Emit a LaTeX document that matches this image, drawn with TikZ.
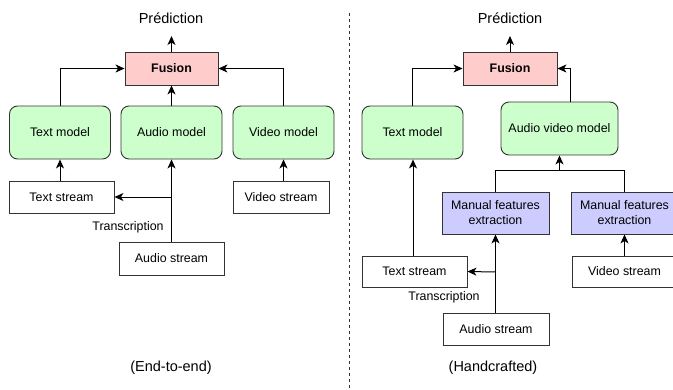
\documentclass[tikz,border=0pt]{standalone}
\usepackage{fontspec}
\setmainfont{Liberation Sans}
\usetikzlibrary{arrows.meta}
\definecolor{pinkfill}{HTML}{FFCCCC}
\definecolor{greenfill}{HTML}{CCFFCC}
\definecolor{bluefill}{HTML}{CCCCFF}
\definecolor{edge}{HTML}{333333}
\tikzset{
  base/.style={draw=edge, line width=0.9pt, inner sep=0pt, align=center,
    font=\fontsize{12.4}{15}\selectfont},
  fusionbox/.style={base, fill=pinkfill, font=\fontsize{12.4}{15}\selectfont\bfseries},
  modelbox/.style={base, fill=greenfill, rounded corners=8pt},
  featbox/.style={base, fill=bluefill},
  streambox/.style={base, fill=white},
  plainlabel/.style={inner sep=0pt, font=\fontsize{12.4}{15}\selectfont},
  biglabel/.style={inner sep=0pt, font=\fontsize{14.5}{17}\selectfont},
  conn/.style={draw=black, line width=1pt, -{Stealth[length=9pt,width=8pt,inset=2.5pt]}},
  wire/.style={draw=black, line width=1pt},
}
\begin{document}
\begin{tikzpicture}[x=1pt,y=-1pt]
\useasboundingbox (0,0) rectangle (673,389);
\clip (0,0) rectangle (673,389);

% ---------- end-to-end pipeline ----------
\node[biglabel] (pred1) at (171,18) {Prédiction};
\node[fusionbox, minimum width=93pt, minimum height=33pt] (fus1) at (171.5,68.5) {Fusion};
\node[modelbox, minimum width=101pt, minimum height=53pt] (tm1) at (60,132.5) {Text model};
\node[modelbox, minimum width=101pt, minimum height=53pt] (am1) at (171.5,132.5) {Audio model};
\node[modelbox, minimum width=101pt, minimum height=53pt] (vm1) at (283.5,132.5) {Video model};
\node[streambox, minimum width=105pt, minimum height=32pt] (ts1) at (61.5,197) {Text stream};
\node[streambox, minimum width=96pt, minimum height=32pt] (vs1) at (281,197) {Video stream};
\node[streambox, minimum width=105pt, minimum height=33pt] (as1) at (171.5,258.5) {Audio stream};
\node[plainlabel] (tr1) at (128,227) {Transcription};
\node[biglabel] (cap1) at (171,368) {(End-to-end)};

\coordinate (ptop1) at (171.5,36);
\draw[conn] (fus1.north) -- (ptop1);
\draw[conn] (tm1.north) |- (fus1.west);
\draw[conn] (vm1.north) |- (fus1.east);
\draw[conn] (am1.north) -- (fus1.south);
\draw[conn] (tm1.south |- ts1.north) -- (tm1.south);
\draw[conn] (vm1.south |- vs1.north) -- (vm1.south);
\draw[conn] (as1.north) -- (am1.south);
\coordinate (split1) at (171.5,197);
\draw[conn] (split1) -- (ts1.east);

% ---------- divider ----------
\coordinate (divtop) at (349,13);
\coordinate (divbot) at (349,389);
\draw[line width=0.9pt, dash pattern=on 3pt off 3pt, draw=edge] (divtop) -- (divbot);

% ---------- handcrafted pipeline ----------
\node[biglabel] (pred2) at (510,18) {Prédiction};
\node[fusionbox, minimum width=94pt, minimum height=33pt] (fus2) at (510,68.5) {Fusion};
\node[modelbox, minimum width=101pt, minimum height=53pt] (tm2) at (412.5,132.5) {Text model};
\node[modelbox, minimum width=117pt, minimum height=53pt] (avm) at (559.5,128.5) {Audio video model};
\node[featbox, minimum width=107pt, minimum height=42pt] (mfe1) at (495.5,213) {Manual features\\extraction};
\node[featbox, minimum width=107pt, minimum height=42pt] (mfe2) at (624.5,213) {Manual features\\extraction};
\node[streambox, minimum width=105pt, minimum height=31pt] (ts2) at (414.5,271.5) {Text stream};
\node[streambox, minimum width=105pt, minimum height=31pt] (vs2) at (624.5,271.5) {Video stream};
\node[streambox, minimum width=106pt, minimum height=32pt] (as2) at (496,329) {Audio stream};
\node[plainlabel] (tr2) at (444,297) {Transcription};
\node[biglabel] (cap2) at (493,368) {(Handcrafted)};

\coordinate (ptop2) at (510,36);
\draw[conn] (fus2.north) -- (ptop2);
\coordinate (tmup) at (412,106);
\draw[conn] (tmup) |- (fus2.west);
\coordinate (avup) at (570,102);
\draw[conn] (avup) |- (fus2.east);
\coordinate (join) at (559.5,170);
\draw[wire] (mfe1.north) |- (mfe2.north |- join) -- (mfe2.north);
\draw[conn] (join) -- (avm.south);
\draw[conn] (as2.north -| mfe1.south) -- (mfe1.south);
\coordinate (split2) at (495.5,272);
\draw[conn] (split2) -- (ts2.east);
\draw[conn] (vs2.north) -- (mfe2.south);
\coordinate (tsup) at (413,256);
\draw[conn] (tsup) -- (tsup |- tm2.south);
\end{tikzpicture}
\end{document}
